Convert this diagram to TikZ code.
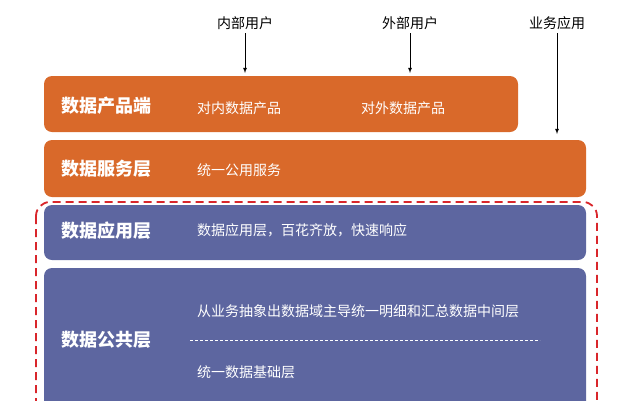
\documentclass[tikz,border=0pt]{standalone}
\usepackage{fontspec}
\setmainfont{Noto Sans CJK SC}
\begin{document}
\begin{tikzpicture}[x=1pt,y=-1pt,
  orbox/.style={fill=orng,rounded corners=8pt,draw=none},
  blbox/.style={fill=blu,rounded corners=8pt,draw=none},
  title/.style={text=white,font=\fontsize{18}{21}\selectfont\bfseries,anchor=center},
  body/.style={text=white,font=\fontsize{14}{17}\selectfont,anchor=west,inner sep=0pt},
  lab/.style={font=\fontsize{14}{17}\selectfont,anchor=center},
  arr/.style={-latex,thick}]
\definecolor{orng}{HTML}{D9692A}
\definecolor{blu}{HTML}{5D66A0}
\definecolor{rd}{HTML}{D9262B}
\useasboundingbox (0,0) rectangle (620,400);
\fill[orbox] (44,76) rectangle (518,132);
\fill[orbox] (44,140) rectangle (586,197);
\fill[blbox] (44,205) rectangle (586,260);
\fill[blbox] (44,268) rectangle (586,420);
\draw[rd,dashed,line width=1.8pt,dash pattern=on 8pt off 5pt,rounded corners=14pt] (36,202) rectangle (597,430);
\node[title] (t1) at (106,106) {数据产品端};
\node[title] (t2) at (106,169) {数据服务层};
\node[title] (t3) at (106,231) {数据应用层};
\node[title] (t4) at (106,340) {数据公共层};
\node[body] (b1a) at (197,108) {对内数据产品};
\node[body] (b1b) at (361,108) {对外数据产品};
\node[body] (b2) at (197,170) {统一公用服务};
\node[body] (b3) at (197,230) {数据应用层，百花齐放，快速响应};
\node[body] (b4a) at (197,311) {从业务抽象出数据域主导统一明细和汇总数据中间层};
\node[body] (b4b) at (197,372) {统一数据基础层};
\draw[white,dashed,dash pattern=on 3pt off 2pt,thin] (190,340) -- (540,340);
\node[lab] (u1) at (245,23) {内部用户};
\node[lab] (u2) at (410,23) {外部用户};
\node[lab] (u3) at (557,23) {业务应用};
\coordinate (e1) at (245,73);
\coordinate (e2) at (410,73);
\coordinate (e3) at (557,134);
\draw[arr] (u1.south) -- (e1);
\draw[arr] (u2.south) -- (e2);
\draw[arr] (u3.south) -- (e3);
\end{tikzpicture}
\end{document}
